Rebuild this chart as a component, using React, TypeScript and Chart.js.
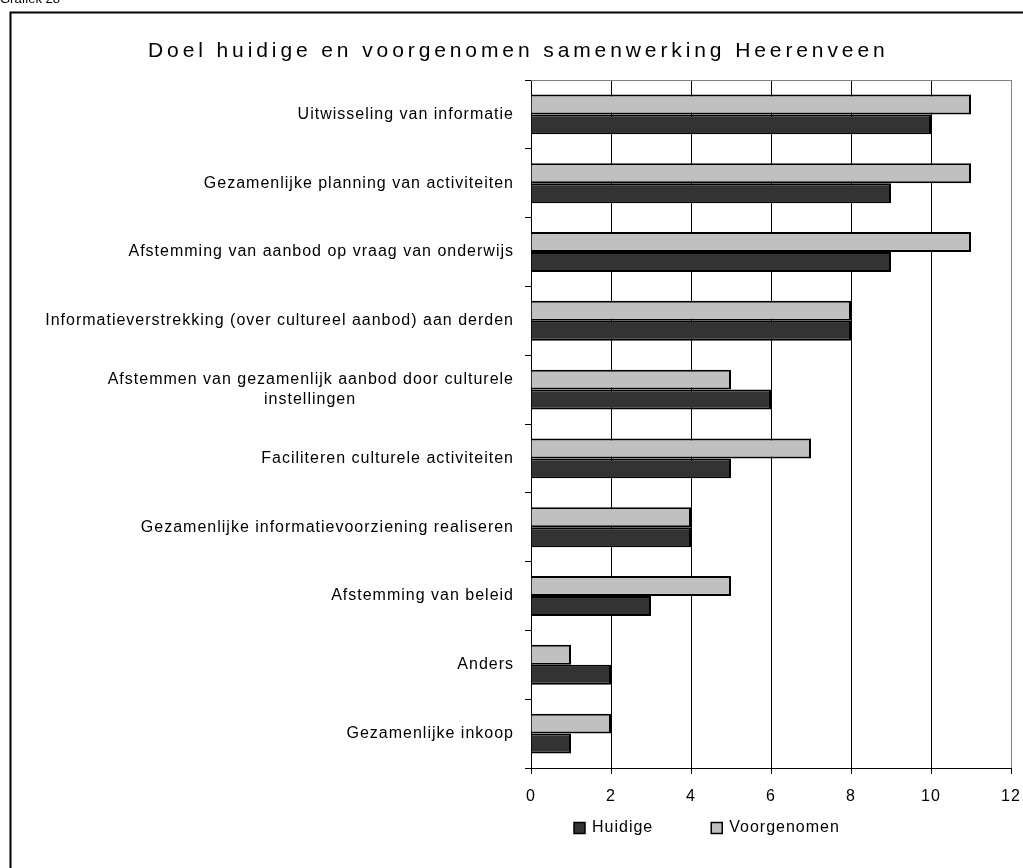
import React, { useEffect, useRef } from "react";
import { Chart, registerables } from "chart.js";

Chart.register(...registerables);

const CHART_TITLE = "Doel huidige en voorgenomen samenwerking Heerenveen";
const CAPTION = "Grafiek 28";
const CATEGORIES: (string | string[])[] = [
  "Uitwisseling van informatie",
  "Gezamenlijke planning van activiteiten",
  "Afstemming van aanbod op vraag van onderwijs",
  "Informatieverstrekking (over cultureel aanbod) aan derden",
  ["Afstemmen van gezamenlijk aanbod door culturele", "instellingen"],
  "Faciliteren culturele activiteiten",
  "Gezamenlijke informatievoorziening realiseren",
  "Afstemming van beleid",
  "Anders",
  "Gezamenlijke inkoop",
];
const HUIDIGE = [10, 9, 9, 8, 6, 5, 4, 3, 2, 1];
const VOORGENOMEN = [11, 11, 11, 8, 5, 7, 4, 5, 1, 2];
const SERIES_NAMES = ["Huidige", "Voorgenomen"];
const X_MIN = 0;
const X_MAX = 12;
const X_STEP = 2;

const FONT = "'Liberation Sans', Arial, sans-serif";
const LABEL_FONT = `16px ${FONT}`;
const LETTER_SPACING = "1px";

// Centre the lines of a wrapped category label (Excel style) by padding the
// shorter lines with trailing spaces, since Chart.js right-aligns each line.
function centreLines(lines: string[]): string[] {
  const c = document.createElement("canvas").getContext("2d") as any;
  c.font = LABEL_FONT;
  c.letterSpacing = LETTER_SPACING;
  const widths = lines.map((l) => c.measureText(l).width);
  const maxW = Math.max(...widths);
  const sp = c.measureText(" ").width;
  return lines.map((l, i) => l + " ".repeat(Math.max(0, Math.round((maxW - widths[i]) / 2 / sp))));
}

const framePlugin = {
  id: "frame",
  beforeLayout(chart: any) {
    chart.ctx.letterSpacing = LETTER_SPACING;
  },
  beforeDraw(chart: any) {
    const ctx = chart.ctx;
    ctx.letterSpacing = LETTER_SPACING;
    ctx.save();
    ctx.fillStyle = "#ffffff";
    ctx.fillRect(0, 0, chart.width, chart.height);
    ctx.strokeStyle = "#000";
    ctx.lineWidth = 2;
    ctx.beginPath();
    ctx.moveTo(10.5, chart.height + 5);
    ctx.lineTo(10.5, 12.5);
    ctx.lineTo(chart.width + 5, 12.5);
    ctx.stroke();
    ctx.fillStyle = "#000";
    ctx.font = `13px ${FONT}`;
    ctx.letterSpacing = "0px";
    ctx.textBaseline = "alphabetic";
    ctx.textAlign = "left";
    ctx.fillText(CAPTION, 0, 3);
    ctx.restore();
  },
  beforeDatasetsDraw(chart: any) {
    const { ctx, chartArea } = chart;
    ctx.save();
    ctx.strokeStyle = "#808080";
    ctx.lineWidth = 1;
    ctx.beginPath();
    ctx.moveTo(chartArea.left, chartArea.top + 0.5);
    ctx.lineTo(chartArea.right + 0.5, chartArea.top + 0.5);
    ctx.stroke();
    ctx.restore();
  },
  afterDraw(chart: any) {
    const ctx = chart.ctx;
    ctx.save();
    // title
    ctx.fillStyle = "#000";
    ctx.font = `21px ${FONT}`;
    ctx.letterSpacing = "3.9px";
    ctx.textAlign = "left";
    ctx.textBaseline = "middle";
    ctx.fillText(CHART_TITLE, 148, 51);
    // legend (Huidige first, then Voorgenomen)
    ctx.font = LABEL_FONT;
    ctx.letterSpacing = LETTER_SPACING;
    const ds = chart.data.datasets;
    const order = [1, 0];
    let x = 574;
    const yc = 828;
    order.forEach((i) => {
      const d = ds[i];
      ctx.fillStyle = d.backgroundColor;
      ctx.fillRect(x, yc - 5.5, 11, 11);
      ctx.strokeStyle = "#000";
      ctx.lineWidth = 1.5;
      ctx.strokeRect(x, yc - 5.5, 11, 11);
      ctx.fillStyle = "#000";
      ctx.fillText(d.label, x + 18, yc);
      const w = ctx.measureText(d.label).width;
      x = x + 18 + w + 58;
    });
    ctx.restore();
  },
};

export default function App() {
  const ref = useRef<HTMLCanvasElement>(null);
  useEffect(() => {
    if (!ref.current) return;
    const chart = new Chart(ref.current, {
      type: "bar",
      data: {
        labels: CATEGORIES,
        datasets: [
          {
            label: SERIES_NAMES[1],
            data: VOORGENOMEN,
            backgroundColor: "#c0c0c0",
            borderColor: "#000",
            borderWidth: 2,
            categoryPercentage: 0.58,
            barPercentage: 1,
          },
          {
            label: SERIES_NAMES[0],
            data: HUIDIGE,
            backgroundColor: "#333333",
            borderColor: "#000",
            borderWidth: 2,
            categoryPercentage: 0.58,
            barPercentage: 1,
          },
        ],
      },
      options: {
        indexAxis: "y",
        responsive: false,
        animation: false,
        devicePixelRatio: 1,
        layout: { padding: { top: 80, right: 12, bottom: 60, left: 0 } },
        plugins: {
          legend: { display: false },
          title: { display: false },
          tooltip: { enabled: false },
        },
        scales: {
          x: {
            type: "linear",
            position: "bottom",
            min: X_MIN,
            max: X_MAX,
            ticks: {
              stepSize: X_STEP,
              color: "#000",
              font: { family: FONT, size: 16 },
              padding: 13,
            },
            grid: {
              color: (c: any) => (c.tick && c.tick.value === X_MAX ? "#808080" : "#000"),
              tickColor: "#000",
              tickLength: 6,
              lineWidth: 1,
            },
            border: { color: "#000", width: 1 },
            afterFit: (s: any) => {
              s.height = 40;
              s.paddingRight = 0;
              s.paddingLeft = 0;
            },
          },
          y: {
            type: "category",
            offset: true,
            ticks: {
              color: "#000",
              font: { family: FONT, size: 16 },
              padding: 11,
              autoSkip: false,
              callback: (_v: any, i: number) => {
                const l = CATEGORIES[i];
                return Array.isArray(l) ? centreLines(l) : l;
              },
            },
            grid: {
              offset: true,
              drawOnChartArea: false,
              drawTicks: true,
              tickLength: 6,
              tickColor: "#000",
            },
            border: { color: "#000", width: 1 },
            afterFit: (s: any) => {
              s.width = 531;
              s.paddingTop = 0;
              s.paddingBottom = 0;
            },
          },
        },
      },
      plugins: [framePlugin],
    });
    return () => chart.destroy();
  }, []);
  return (
    <div style={{ position: "absolute", left: 0, top: 0, width: 1023, height: 868, background: "#fff" }}>
      <canvas ref={ref} width={1023} height={868} style={{ display: "block" }} />
    </div>
  );
}
